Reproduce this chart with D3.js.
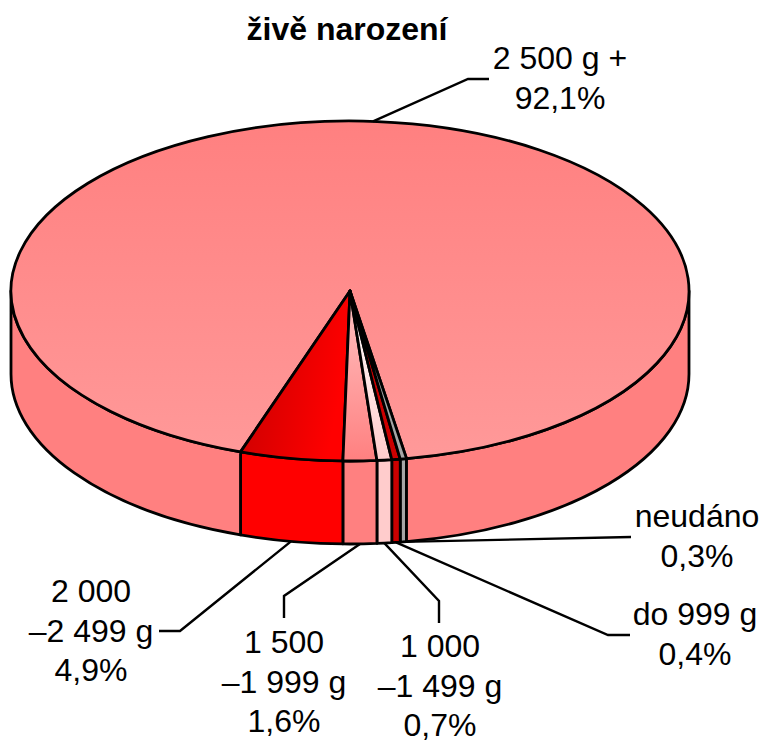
<!DOCTYPE html>
<html>
<head>
<meta charset="utf-8">
<script src="https://cdn.jsdelivr.net/npm/d3@7"></script>
<style>
  html, body { margin: 0; padding: 0; background: #fff; overflow: hidden; }
  svg { display: block; }
  text { font-family: "Liberation Sans", Arial, sans-serif; fill: #000; }
</style>
</head>
<body>
<div id="chart"></div>
<script>
// Live births by birth weight, 3D pie
const categories = ["neudáno", "do 999 g", "1 000 –1 499 g", "1 500 –1 999 g", "2 000 –2 499 g", "2 500 g +"];
const values = [0.3, 0.4, 0.7, 1.6, 4.9, 92.1];
const labelLines = [
  ["neudáno", "0,3%"],
  ["do 999 g", "0,4%"],
  ["1 000", "–1 499 g", "0,7%"],
  ["1 500", "–1 999 g", "1,6%"],
  ["2 000", "–2 499 g", "4,9%"],
  ["2 500 g +", "92,1%"]
];
const wallColors = ["#a6a6a6", "#cc0000", "#ffcccc", "#ff8080", "#ff0000", "#ff8080"];
const topFills = ["#a6a6a6", "#cc0000", "url(#g3)", "url(#g4)", "url(#g5)", "url(#g6)"];

const width = 764, height = 742;
const cx = 350, cy = 291, rx = 339, ry = 170, depth = 83;
const fontSize = 32;
const lineGap = 39.5;
const deg = Math.PI / 180;

// label centre x, first baseline y, leader elbow points after the slice anchor
const labelPos = [
  { x: 697, y: 527, elbow: [[631, 537]] },
  { x: 695, y: 625, elbow: [[608, 635], [630, 635]] },
  { x: 440, y: 657, elbow: [[439, 601], [439, 623]] },
  { x: 284, y: 653, elbow: [[284, 596], [284, 618]] },
  { x: 91, y: 602, elbow: [[180, 631], [159, 631]] },
  { x: 560, y: 69, elbow: [[468, 79], [489, 79]] }
];

const svg = d3.select("#chart").append("svg").attr("width", width).attr("height", height);
const defs = svg.append("defs");

function grad(id, x1, y1, x2, y2, c1, c2) {
  const g = defs.append("linearGradient").attr("id", id)
    .attr("x1", x1).attr("y1", y1).attr("x2", x2).attr("y2", y2);
  g.append("stop").attr("offset", 0).attr("stop-color", c1);
  g.append("stop").attr("offset", 1).attr("stop-color", c2);
}
grad("g3", 0, 0, 0, 1, "#ffffff", "#ffcccc");
grad("g4", 0, 0, 0, 1, "#ffc4c4", "#ff8080");
grad("g5", 0, 0, 1, 0.3, "#c40000", "#ff0000");
grad("g6", 0, 0, 0, 1, "#ff8080", "#ff9999");

const start = 170.4 * deg;
const pie = d3.pie().sort(null).value(d => d)
  .startAngle(start).endAngle(start + 2 * Math.PI);
const arcs = pie(values);

const px = a => cx + rx * Math.sin(a);
const py = a => cy - ry * Math.cos(a);

function topPath(d) {
  const large = d.endAngle - d.startAngle > Math.PI ? 1 : 0;
  return `M${cx},${cy}L${px(d.startAngle)},${py(d.startAngle)}` +
    `A${rx},${ry} 0 ${large} 1 ${px(d.endAngle)},${py(d.endAngle)}Z`;
}

// front wall pieces: only angles between 90 and 270 degrees are visible
function wallPaths(d) {
  const ranges = [[Math.PI / 2, 1.5 * Math.PI], [2.5 * Math.PI, 3.5 * Math.PI]];
  const out = [];
  ranges.forEach(([lo, hi]) => {
    const a0 = Math.max(d.startAngle, lo), a1 = Math.min(d.endAngle, hi);
    if (a1 <= a0) return;
    out.push(`M${px(a0)},${py(a0)}A${rx},${ry} 0 0 1 ${px(a1)},${py(a1)}` +
      `L${px(a1)},${py(a1) + depth}A${rx},${ry} 0 0 0 ${px(a0)},${py(a0) + depth}Z`);
  });
  return out;
}

const gWalls = svg.append("g");
arcs.forEach((d, i) => {
  gWalls.selectAll(null).data(wallPaths(d)).join("path")
    .attr("d", p => p)
    .attr("fill", wallColors[i])
    .attr("stroke", "#000").attr("stroke-width", 2.8).attr("stroke-linejoin", "round");
});

// big slice first so the thin ones sit on top
svg.append("g").selectAll("path")
  .data(arcs.map((d, i) => ({ d, i })).reverse())
  .join("path")
  .attr("d", o => topPath(o.d))
  .attr("fill", o => topFills[o.i])
  .attr("stroke", "#000").attr("stroke-width", 2.8).attr("stroke-linejoin", "round");

// leader lines
const line = d3.line();
arcs.forEach((d, i) => {
  const mid = (d.startAngle + d.endAngle) / 2;
  const isBack = i === 5;
  // the big slice's leader leaves the back rim, the others the bottom of the wall
  const a = isBack ? 2 * Math.PI + 3.9 * deg : mid;
  const anchor = [px(a), py(a) + (isBack ? 0 : depth)];
  svg.append("path")
    .attr("d", line([anchor, ...labelPos[i].elbow]))
    .attr("fill", "none").attr("stroke", "#000").attr("stroke-width", 2.4);
});

// labels
svg.append("g").selectAll("text").data(labelLines).join("text")
  .attr("text-anchor", "middle")
  .attr("font-size", fontSize)
  .each(function (lines, i) {
    d3.select(this).selectAll("tspan").data(lines).join("tspan")
      .attr("x", labelPos[i].x)
      .attr("y", (l, j) => labelPos[i].y + j * lineGap)
      .text(l => l);
  });

svg.append("text")
  .attr("x", 347).attr("y", 40)
  .attr("text-anchor", "middle")
  .attr("font-size", fontSize).attr("font-weight", "bold")
  .text("živě narození");
</script>
</body>
</html>
